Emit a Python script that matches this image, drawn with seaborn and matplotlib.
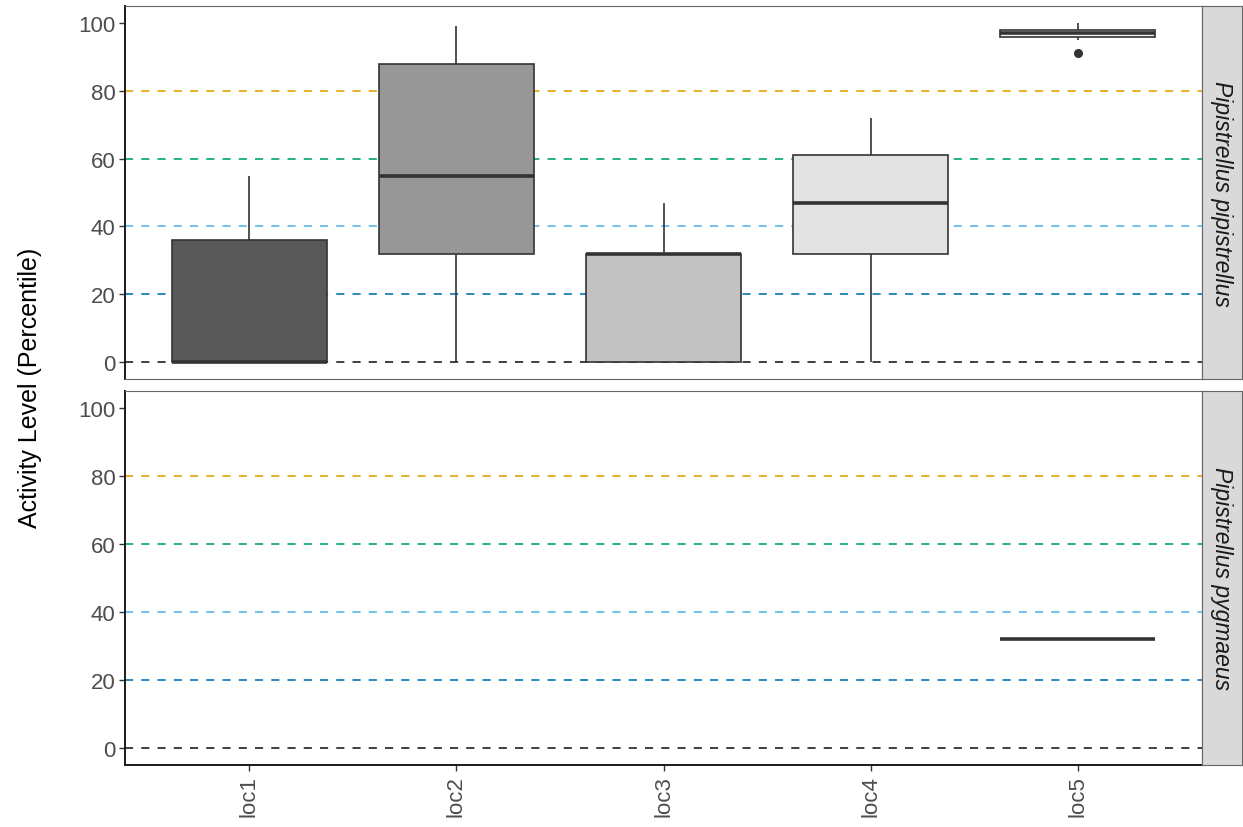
import matplotlib
matplotlib.use("Agg")
import matplotlib.pyplot as plt
import seaborn as sns
import pandas as pd

sns.set_style("white")
plt.rcParams["font.family"] = ["Liberation Sans", "DejaVu Sans"]

# Activity percentiles recorded at each location, per species
locations = ["loc1", "loc2", "loc3", "loc4", "loc5"]
species = ["Pipistrellus pipistrellus", "Pipistrellus pygmaeus"]

pip_loc1 = [0, 0, 0, 0, 0, 36, 36, 55]
pip_loc2 = [0, 32, 55, 88, 99]
pip_loc3 = [0, 0, 32, 32, 47]
pip_loc4 = [0, 32, 47, 61, 72]
pip_loc5 = [91, 95, 96, 96, 97, 98, 98, 99, 100]
pyg_loc5 = [32]

# Reference activity bands
band_levels = [0, 20, 40, 60, 80]
band_colors = ["#1a1a1a", "#0072B2", "#56B4E9", "#009E73", "#E69F00"]

fill_colors = ["#595959", "#979797", "#C2C2C2", "#E3E3E3", "#F2F2F2"]

rows = []
for loc, vals in zip(locations, [pip_loc1, pip_loc2, pip_loc3, pip_loc4, pip_loc5]):
    rows += [(species[0], loc, v) for v in vals]
rows += [(species[1], "loc5", v) for v in pyg_loc5]
df = pd.DataFrame(rows, columns=["species", "loc", "activity"])

W, H = 1243, 828
fig = plt.figure(figsize=(W / 100, H / 100), dpi=100)

def px_axes(left, top, right, bottom):
    return fig.add_axes([left / W, 1 - bottom / H, (right - left) / W, (bottom - top) / H])

panels = [(7, 380), (392, 766)]
palette = dict(zip(locations, fill_colors))
tick_col = "#4D4D4D"

for i, (sp, (top, bottom)) in enumerate(zip(species, panels)):
    ax = px_axes(125, top, 1202, bottom)
    for lvl, col in zip(band_levels, band_colors):
        ax.axhline(lvl, color=col, lw=1.3, ls=(0, (4.5, 4.5)), alpha=0.9, zorder=0.5)
    sub = df[df["species"] == sp]
    sns.boxplot(data=sub, x="loc", y="activity", hue="loc", order=locations,
                hue_order=locations, palette=palette, legend=False, dodge=False,
                width=0.75, linecolor="#333333", linewidth=1.2, showcaps=False,
                medianprops=dict(lw=2.6, color="#333333"),
                flierprops=dict(marker="o", markerfacecolor="#333333",
                                markeredgecolor="#333333", markersize=5.5),
                ax=ax)
    ax.set_xlim(-0.6, 4.6)
    ax.set_ylim(-5, 105)
    ax.set_yticks([0, 20, 40, 60, 80, 100])
    ax.set_xlabel("")
    ax.set_ylabel("")
    ax.tick_params(axis="y", labelsize=16, labelcolor=tick_col, colors="#333333",
                   length=4, width=1, left=True, pad=3)
    for s in ["top", "right", "bottom"]:
        ax.spines[s].set_color("#666666")
        ax.spines[s].set_linewidth(0.8)
    ax.spines["left"].set_color("#1a1a1a")
    ax.spines["left"].set_linewidth(1.4)
    if i == 0:
        ax.set_xticks([])
    else:
        ax.spines["bottom"].set_color("#1a1a1a")
        ax.spines["bottom"].set_linewidth(1.4)
        ax.tick_params(axis="x", labelsize=16, labelcolor=tick_col, colors="#333333",
                       length=4, width=1, bottom=True, labelrotation=90, pad=3)

    # facet strip on the right
    sax = px_axes(1202, top, 1242, bottom)
    sax.set_facecolor("#D9D9D9")
    sax.set_xticks([])
    sax.set_yticks([])
    for s in sax.spines.values():
        s.set_color("#666666")
        s.set_linewidth(0.8)
    sax.text(0.5, 0.5, sp, rotation=-90, ha="center", va="center", fontsize=16.5,
             style="italic", color="#1a1a1a", transform=sax.transAxes)

fig.text(30 / W, 1 - 388 / H, "Activity Level (Percentile)", rotation=90,
         ha="center", va="center", fontsize=18, color="#000000")

fig.savefig("out.png", dpi=100)
